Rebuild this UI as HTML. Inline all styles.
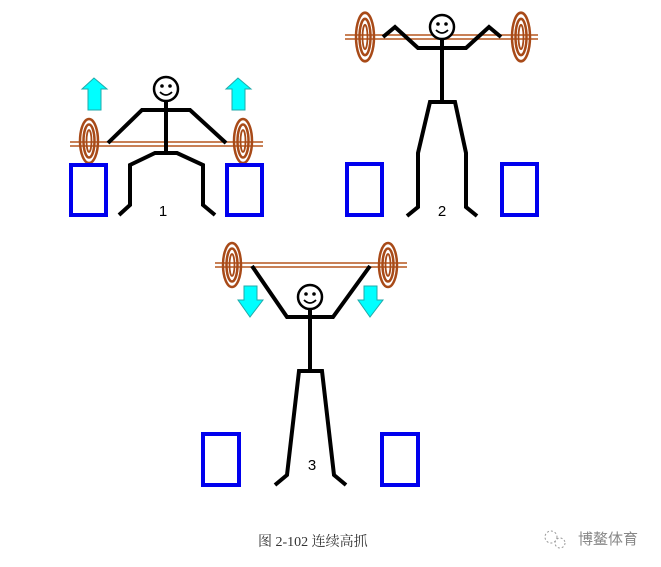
<!DOCTYPE html>
<html><head><meta charset="utf-8"><style>
html,body{margin:0;padding:0;background:#fff;width:661px;height:567px;overflow:hidden}
</style></head><body>
<svg width="661" height="567" viewBox="0 0 661 567" xmlns="http://www.w3.org/2000/svg">
<defs>
<g id="plate"><ellipse cx="0" cy="0" rx="9" ry="22" fill="none" stroke="#a84a18" stroke-width="2.5"/><ellipse cx="0" cy="0" rx="5.5" ry="16.5" fill="none" stroke="#a84a18" stroke-width="2.5"/><ellipse cx="0" cy="0" rx="2.5" ry="11" fill="none" stroke="#a84a18" stroke-width="1.8"/></g>
<g id="head"><circle cx="0" cy="0" r="12" fill="#fff" stroke="#000" stroke-width="2.5"/><circle cx="-4" cy="-3" r="1.8"/><circle cx="4" cy="-3" r="1.8"/><path d="M-6 3 Q0 9 6 3" fill="none" stroke="#000" stroke-width="1.8"/></g>
</defs>
<g fill="none" stroke-linejoin="miter">
<line x1="70" y1="142" x2="263" y2="142" stroke="#b5561e" stroke-width="1.5"/>
<line x1="70" y1="146" x2="263" y2="146" stroke="#b5561e" stroke-width="1.5"/>
<use href="#plate" x="89" y="141"/><use href="#plate" x="243" y="141"/>
<rect x="71" y="165" width="35" height="50" stroke="#0000ee" stroke-width="4"/>
<rect x="227" y="165" width="35" height="50" stroke="#0000ee" stroke-width="4"/>
<polyline points="108,143 142,110 190,110 226,143" stroke="#000" stroke-width="4"/>
<line x1="166" y1="100" x2="166" y2="153" stroke="#000" stroke-width="4"/>
<polyline points="119,215 130,205 130,165 155,153 177,153 203,165 203,205 215,215" stroke="#000" stroke-width="4"/>
<polygon points="94,78 82,89 88,89 88,110 101,110 101,89 107,89" fill="#00ffff" stroke="#2aa" stroke-width="1"/>
<polygon points="238,78 226,89 232,89 232,110 245,110 245,89 251,89" fill="#00ffff" stroke="#2aa" stroke-width="1"/>
<line x1="345" y1="35" x2="538" y2="35" stroke="#b5561e" stroke-width="1.5"/>
<line x1="345" y1="39" x2="538" y2="39" stroke="#b5561e" stroke-width="1.5"/>
<use href="#plate" x="365" y="37" transform="translate(365 37) scale(1 1.1) translate(-365 -37)"/>
<use href="#plate" x="521" y="37" transform="translate(521 37) scale(1 1.1) translate(-521 -37)"/>
<rect x="347" y="164" width="35" height="51" stroke="#0000ee" stroke-width="4"/>
<rect x="502" y="164" width="35" height="51" stroke="#0000ee" stroke-width="4"/>
<polyline points="383,37 395,27 418,48 466,48 489,27 501,37" stroke="#000" stroke-width="4"/>
<line x1="442" y1="36" x2="442" y2="103" stroke="#000" stroke-width="4"/>
<polyline points="407,216 418,207 418,153 430,102 455,102 466,153 466,207 477,216" stroke="#000" stroke-width="4"/>
<line x1="215" y1="263" x2="407" y2="263" stroke="#b5561e" stroke-width="1.5"/>
<line x1="215" y1="267" x2="407" y2="267" stroke="#b5561e" stroke-width="1.5"/>
<use href="#plate" x="232" y="265"/><use href="#plate" x="388" y="265"/>
<rect x="203" y="434" width="36" height="51" stroke="#0000ee" stroke-width="4"/>
<rect x="382" y="434" width="36" height="51" stroke="#0000ee" stroke-width="4"/>
<polyline points="252,266 287,317 333,317 370,266" stroke="#000" stroke-width="4"/>
<line x1="310" y1="305" x2="310" y2="372" stroke="#000" stroke-width="4"/>
<polyline points="275,485 287,475 299,371 322,371 334,475 346,485" stroke="#000" stroke-width="4"/>
<polygon points="244,286 257,286 257,300 263,300 250,317 238,300 244,300" fill="#00ffff" stroke="#2aa" stroke-width="1"/>
<polygon points="364,286 377,286 377,300 383,300 370,317 358,300 364,300" fill="#00ffff" stroke="#2aa" stroke-width="1"/>
</g>
<use href="#head" x="166" y="89"/>
<use href="#head" x="442" y="27"/>
<use href="#head" x="310" y="297"/>
<g font-family="Liberation Sans, sans-serif" font-size="15" fill="#000" text-anchor="middle">
<text x="163" y="216">1</text><text x="442" y="216">2</text><text x="312" y="470">3</text>
</g>
<text x="258" y="546" font-family="Liberation Serif, 'Noto Serif CJK SC', serif" font-size="14" fill="#333">图 2-102 连续高抓</text>
<g stroke="#999" fill="none" stroke-width="1" stroke-dasharray="2 2"><circle cx="551" cy="537" r="6"/><circle cx="560" cy="543" r="5"/></g>
<text x="578" y="544" font-family="'Noto Sans CJK SC', sans-serif" font-size="15" fill="#888">博鳌体育</text>
</svg>
</body></html>
